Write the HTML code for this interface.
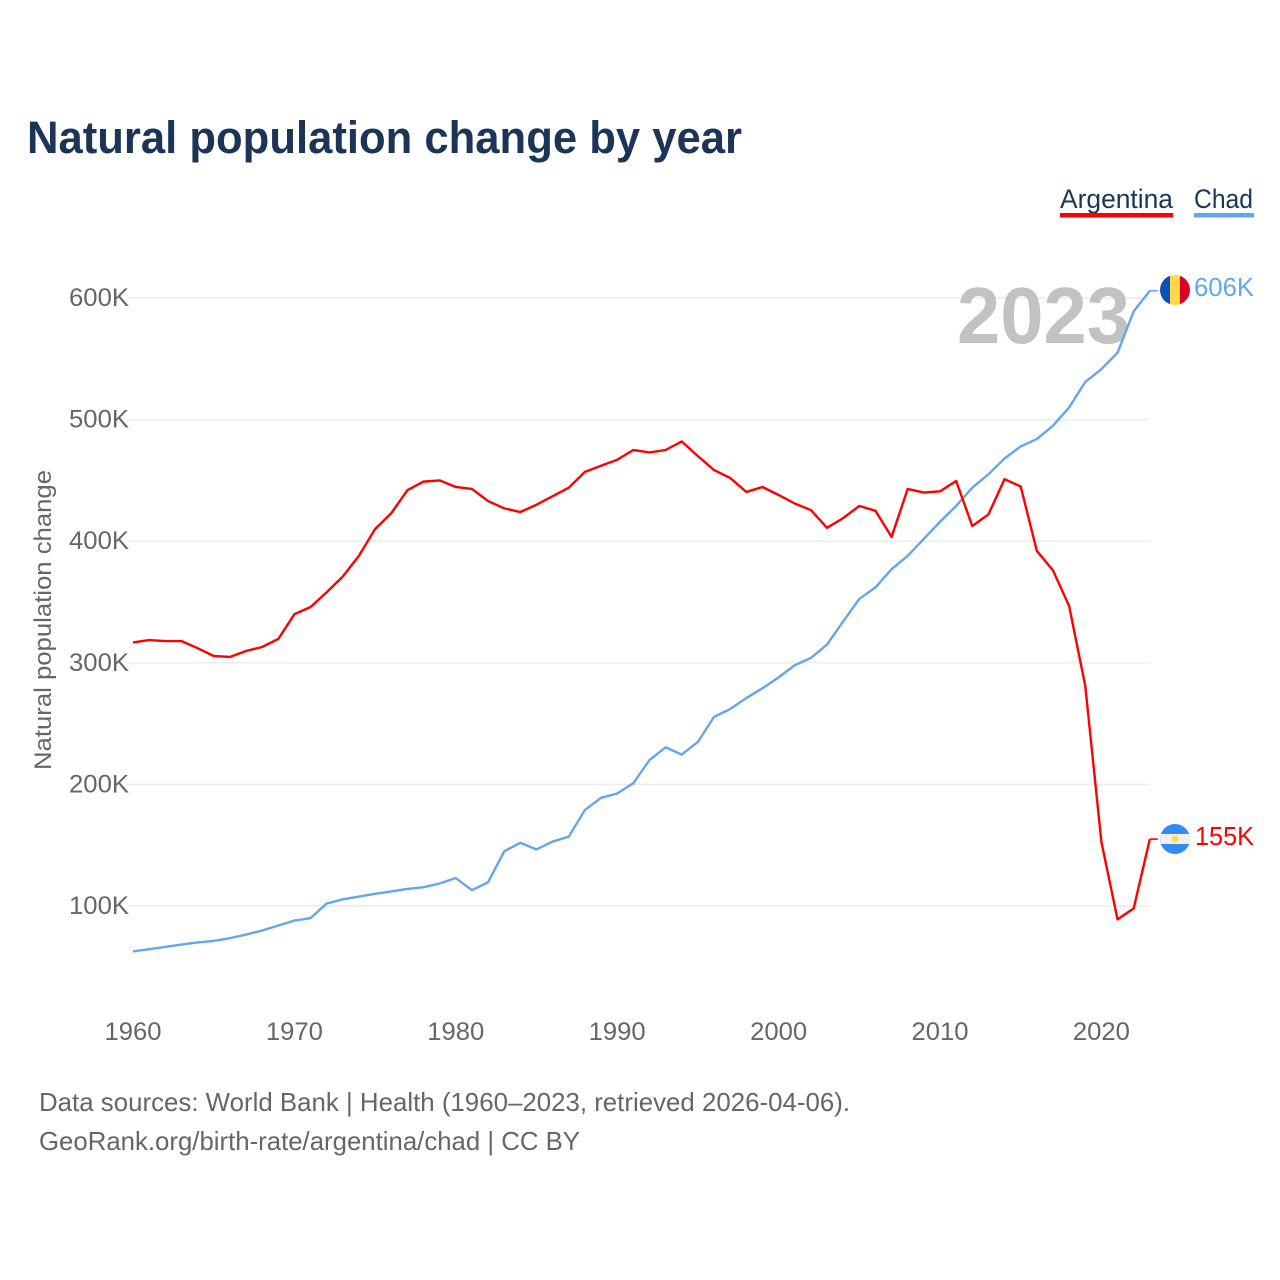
<!DOCTYPE html>
<html lang="en">
<head>
<meta charset="utf-8">
<title>Natural population change by year</title>
<style>
html,body{margin:0;padding:0;background:#fff;}
svg{display:block;font-family:"Liberation Sans",sans-serif;}
</style>
</head>
<body>
<svg id="chart" width="1280" height="1280" viewBox="0 0 1280 1280" xmlns="http://www.w3.org/2000/svg">
  <defs>
    <clipPath id="clip-ro"><circle cx="1175" cy="290" r="15"/></clipPath>
    <clipPath id="clip-ar"><circle cx="1175" cy="839" r="15"/></clipPath>
  </defs>
  <rect width="1280" height="1280" fill="#fff"/>
  <text x="27" y="153" font-size="45" font-weight="700" fill="#1a3556" textLength="715" lengthAdjust="spacingAndGlyphs">Natural population change by year</text>

  <g id="grid"></g>
  <g id="yticks"></g>
  <g id="xticks"></g>

  <text x="957" y="343" font-size="80" font-weight="700" fill="#c2c2c2" textLength="173" lengthAdjust="spacingAndGlyphs">2023</text>

  <text transform="translate(51,770) rotate(-90)" font-size="24" fill="#666" textLength="300" lengthAdjust="spacingAndGlyphs">Natural population change</text>

  <path id="line-chad" fill="none" stroke="#63a6ee" stroke-width="2.4" stroke-linejoin="round"/>
  <path id="line-argentina" fill="none" stroke="#ff0000" stroke-width="2.4" stroke-linejoin="round"/>
  <path id="stub-chad" fill="none" stroke="#63a6ee" stroke-width="1.6"/>
  <path id="stub-argentina" fill="none" stroke="#ff0000" stroke-width="1.6"/>

  <g>
    <text x="1060" y="208" font-size="27" fill="#1a3556" textLength="113" lengthAdjust="spacingAndGlyphs">Argentina</text>
    <rect x="1060" y="213" width="113" height="4.5" fill="#ff0000"/>
  </g>
  <g>
    <text x="1194" y="208" font-size="27" fill="#1a3556" textLength="59" lengthAdjust="spacingAndGlyphs">Chad</text>
    <rect x="1194" y="213" width="60" height="4.5" fill="#63a6ee"/>
  </g>

  <g clip-path="url(#clip-ro)">
    <rect x="1160" y="275" width="10" height="30" fill="#0a52b5"/>
    <rect x="1170" y="275" width="10" height="30" fill="#ffd84a"/>
    <rect x="1180" y="275" width="10" height="30" fill="#dc0028"/>
  </g>
  <g clip-path="url(#clip-ar)">
    <rect x="1160" y="824" width="30" height="30" fill="#338af3"/>
    <rect x="1160" y="834" width="30" height="10" fill="#f0f0f0"/>
    <circle cx="1175" cy="839" r="3.5" fill="#ffda44"/>
  </g>
  <text id="end-label-chad" x="1194" y="296" font-size="26" fill="#63a6ee" textLength="60" lengthAdjust="spacingAndGlyphs"></text>
  <text id="end-label-argentina" x="1195" y="845" font-size="26" fill="#ff0000" textLength="59" lengthAdjust="spacingAndGlyphs"></text>

  <text x="39" y="1111" font-size="26" fill="#666" textLength="811" lengthAdjust="spacingAndGlyphs">Data sources: World Bank | Health (1960–2023, retrieved 2026-04-06).</text>
  <text x="39" y="1150" font-size="26" fill="#666" textLength="541" lengthAdjust="spacingAndGlyphs">GeoRank.org/birth-rate/argentina/chad | CC BY</text>
</svg>
<script>
const startYear = 1960;
const xTickYears = [1960, 1970, 1980, 1990, 2000, 2010, 2020];
const yTickValues = [100, 200, 300, 400, 500, 600];
const argentinaValues = [316.7,318.7,317.9,317.9,312,305.6,304.8,309.7,313,319.6,340,345.9,358,371,388,410,423,442,449,450,444.6,443,433,427,424,430,437,444,457,462,467,475,473,475,482,470,458.5,452,440.5,444.6,438,431,425.6,411,419,429,425,403.5,443,440,441,449.5,412.5,422,451,445,392,376,346.7,281,152.6,89,98,155];
const chadValues = [62.6,64.5,66.3,68.3,70,71.3,73.5,76.5,79.8,84,88,90,102,105.5,107.8,110,112,114,115.5,118.5,123,113,119.5,145,152,146.5,153,157,179,189,192.5,201,220,230.5,224.5,235,255.5,262,271,279,288,298,304,315,334,352.5,362,377,388,402,416,429,444,455,468,478,484,495,510,531,541.5,555,589,606];

const NS = 'http://www.w3.org/2000/svg';
function xScale(year) { return 133 + (year - 1960) * 16.14; }
function yScale(value) { return 906 - (value - 100) * 1.216; }
function linePath(values) {
  return values.map(function (v, i) {
    return (i ? 'L' : 'M') + xScale(startYear + i).toFixed(2) + ' ' + yScale(v).toFixed(2);
  }).join('');
}
function stubPath(values) {
  const last = values[values.length - 1];
  const xEnd = xScale(startYear + values.length - 1);
  return 'M' + xEnd.toFixed(2) + ' ' + yScale(last).toFixed(2) + 'H' + (xEnd + 8).toFixed(2);
}
const grid = document.getElementById('grid');
const yticks = document.getElementById('yticks');
const xticks = document.getElementById('xticks');

yTickValues.forEach(function (v) {
  const gl = document.createElementNS(NS, 'line');
  
  
  gl.setAttribute('x1', 128);
  gl.setAttribute('x2', xScale(2023));
  gl.setAttribute('y1', yScale(v));
  gl.setAttribute('y2', yScale(v));
  gl.setAttribute('stroke', '#ececec');
  gl.setAttribute('stroke-width', '1.5');
  grid.appendChild(gl);
  const t = document.createElementNS(NS, 'text');
  
  
  t.setAttribute('x', 69);
  t.setAttribute('y', yScale(v) + 8);
  t.setAttribute('font-size', '25');
  t.setAttribute('fill', '#666');
  t.setAttribute('textLength', '60');
  t.setAttribute('lengthAdjust', 'spacingAndGlyphs');
  t.textContent = v + 'K';
  yticks.appendChild(t);
});
xTickYears.forEach(function (y) {
  const t = document.createElementNS(NS, 'text');
  
  
  t.setAttribute('x', xScale(y) - 28.5);
  t.setAttribute('y', 1040);
  t.setAttribute('font-size', '25');
  t.setAttribute('fill', '#666');
  t.setAttribute('textLength', '57');
  t.setAttribute('lengthAdjust', 'spacingAndGlyphs');
  t.textContent = String(y);
  xticks.appendChild(t);
});
document.getElementById('line-argentina').setAttribute('d', linePath(argentinaValues));
document.getElementById('line-chad').setAttribute('d', linePath(chadValues));
document.getElementById('stub-argentina').setAttribute('d', stubPath(argentinaValues));
document.getElementById('stub-chad').setAttribute('d', stubPath(chadValues));
document.getElementById('end-label-argentina').textContent = Math.round(argentinaValues[argentinaValues.length - 1]) + 'K';
document.getElementById('end-label-chad').textContent = Math.round(chadValues[chadValues.length - 1]) + 'K';
</script>
</body>
</html>
